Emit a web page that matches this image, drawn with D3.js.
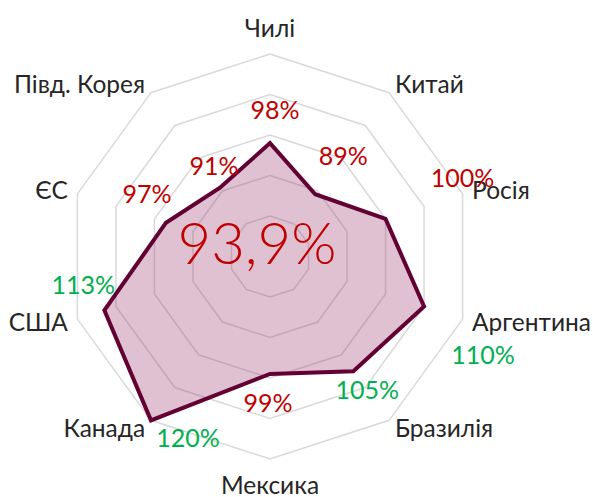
<!DOCTYPE html>
<html>
<head>
<meta charset="utf-8">
<script src="https://cdn.jsdelivr.net/npm/d3@7"></script>
<style>
  html, body { margin: 0; padding: 0; background: #fff; }
  svg { display: block; }
</style>
</head>
<body>
<svg id="chart" width="593" height="497"></svg>
<script>
// ---- data ----
const categories = ["Чилі", "Китай", "Росія", "Аргентина", "Бразилія", "Мексика", "Канада", "США", "ЄС", "Півд. Корея"];
const values = [98, 89, 100, 110, 105, 99, 120, 113, 97, 91];
const valueLabels = ["98%", "89%", "100%", "110%", "105%", "99%", "120%", "113%", "97%", "91%"];
const ringTicks = [70, 80, 90, 100, 110, 120];
const centerLabel = "93,9%";

// ---- layout (label offsets from data point, px) ----
const labelOffsets = [[5, -24], [28, -29], [77, -32], [59, 57], [14, 28], [-2, 38], [37, 27], [-21, -16], [-19, -20], [-6, -13]];

const W = 593, H = 497;
const cx = 270, cy = 256.5, R = 202.5;
const FONT = "Lato, 'Open Sans', sans-serif";

const svg = d3.select("#chart");
const g = svg.append("g").attr("transform", `translate(${cx},${cy})`);

const n = categories.length;
const angle = d3.scaleLinear().domain([0, n]).range([0, 2 * Math.PI]);
const r = d3.scaleLinear().domain([70, 120]).range([0, R]);

const pt = (i, rad) => [rad * Math.sin(angle(i)), -rad * Math.cos(angle(i))];

// grid decagons
const lineRadial = d3.lineRadial().angle((d, i) => angle(i)).radius(d => d).curve(d3.curveLinearClosed);
g.selectAll("path.grid")
  .data(ringTicks.slice(1))
  .join("path")
  .attr("class", "grid")
  .attr("d", t => lineRadial(d3.range(n).map(() => r(t))))
  .attr("fill", "none")
  .attr("stroke", "#d9d9d9")
  .attr("stroke-width", 1.5);

// data area
const area = d3.lineRadial().angle((d, i) => angle(i)).radius(d => r(d)).curve(d3.curveLinearClosed);
g.append("path")
  .attr("d", area(values))
  .attr("fill", "#993366")
  .attr("fill-opacity", 0.3)
  .attr("stroke", "none");
g.append("path")
  .attr("d", area(values))
  .attr("fill", "none")
  .attr("stroke", "#620034")
  .attr("stroke-width", 4)
  .attr("stroke-linejoin", "miter");

// category labels
const catSize = 24.5;
g.selectAll("text.cat")
  .data(categories)
  .join("text")
  .attr("class", "cat")
  .each(function(d, i) {
    const [vx, vy] = pt(i, R);
    const dx = Math.sin(angle(i)), dy = -Math.cos(angle(i));
    let x = vx + dx * 10, y = vy + dy * 10;
    let anchor = "middle";
    if (Math.abs(dx) < 1e-6) { y += dy * 16; }
    else anchor = dx > 0 ? "start" : "end";
    d3.select(this)
      .attr("x", x)
      .attr("y", y + 8.5)
      .attr("text-anchor", anchor);
  })
  .attr("font-family", FONT)
  .attr("font-size", catSize)
  .attr("fill", "#262626")
  .text(d => d);

// value labels
g.selectAll("text.val")
  .data(values)
  .join("text")
  .attr("class", "val")
  .attr("x", (d, i) => pt(i, r(d))[0] + labelOffsets[i][0])
  .attr("y", (d, i) => pt(i, r(d))[1] + labelOffsets[i][1])
  .attr("text-anchor", "middle")
  .attr("font-family", FONT)
  .attr("font-size", 25)
  .attr("fill", d => d > 100 ? "#00b050" : "#c00000")
  .text((d, i) => valueLabels[i]);

// center label
g.append("text")
  .attr("x", -13)
  .attr("y", 7)
  .attr("text-anchor", "middle")
  .attr("font-family", FONT)
  .attr("font-weight", 300)
  .attr("font-size", 58)
  .attr("fill", "#c00000")
  .text(centerLabel);
</script>
</body>
</html>
